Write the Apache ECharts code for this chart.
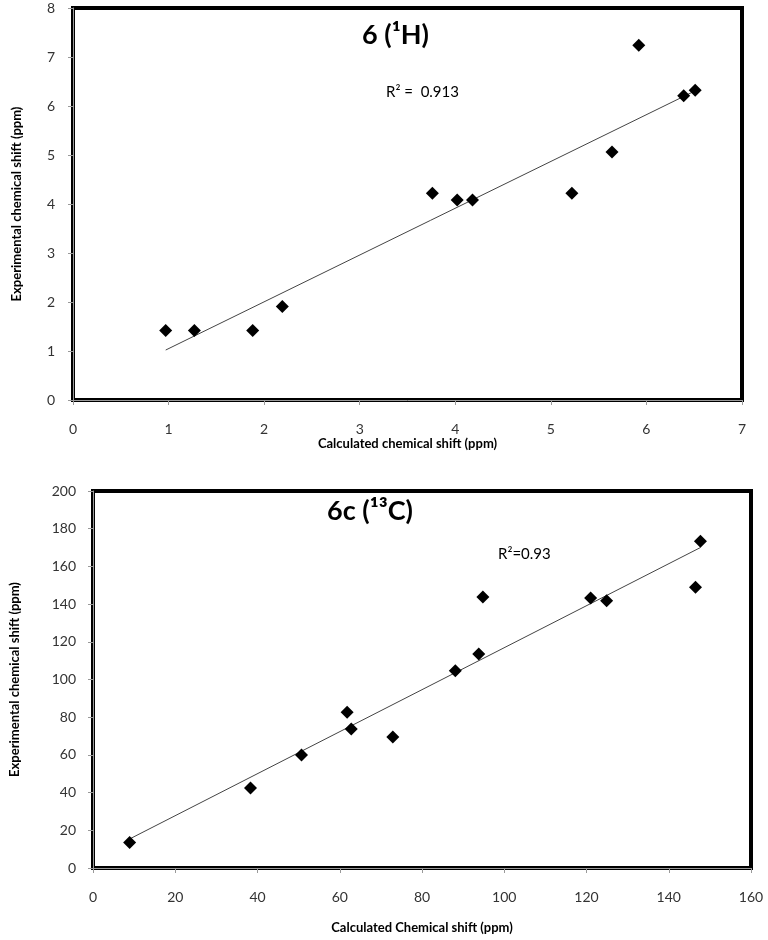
<!DOCTYPE html>
<html><head><meta charset="utf-8">
<script src="https://cdn.jsdelivr.net/npm/echarts@6/dist/echarts.min.js"></script>
<style>html,body{margin:0;padding:0;background:#fff}#c{width:768px;height:940px}</style>
</head><body><div id="c"></div>
<script>
// Top chart: 6 (1H)
const hCalc = [0.97, 1.27, 1.88, 2.19, 3.76, 4.02, 4.18, 5.22, 5.64, 5.92, 6.39, 6.51];
const hExp  = [1.42, 1.42, 1.42, 1.91, 4.22, 4.08, 4.08, 4.22, 5.06, 7.24, 6.21, 6.32];
const hTrend = [[0.97, 1.02], [6.51, 6.31]];
const hXTicks = [0, 1, 2, 3, 4, 5, 6, 7];
const hYTicks = [0, 1, 2, 3, 4, 5, 6, 7, 8];
// Bottom chart: 6c (13C)
const cCalc = [8.9, 38.3, 50.7, 61.8, 62.8, 72.9, 88.1, 93.8, 94.8, 121.0, 124.9, 146.5, 147.7];
const cExp  = [13.5, 42.5, 60.0, 82.6, 73.8, 69.5, 104.6, 113.5, 143.8, 143.2, 141.8, 149.0, 173.4];
const cTrend = [[8.9, 15.4], [147.7, 170.0]];
const cXTicks = [0, 20, 40, 60, 80, 100, 120, 140, 160];
const cYTicks = [0, 20, 40, 60, 80, 100, 120, 140, 160, 180, 200];

const FONT = 'Lato, "Open Sans", sans-serif';
const zip = (a, b) => a.map((v, i) => [v, b[i]]);

function xAxis(idx, ticks, name, gap) {
  return {
    type: 'value', gridIndex: idx, min: ticks[0], max: ticks[ticks.length - 1],
    interval: ticks[1] - ticks[0],
    name: name, nameLocation: 'middle', nameGap: gap,
    nameTextStyle: { fontFamily: FONT, fontWeight: 'bold', fontSize: 13, color: '#000' },
    axisLine: { show: true, onZero: false, lineStyle: { color: '#999', width: 1 } },
    axisTick: { show: true, inside: false, length: 5, lineStyle: { color: '#999' } },
    axisLabel: { margin: 22, fontFamily: FONT, fontSize: 14, color: '#333' },
    splitLine: { show: false }
  };
}
function yAxis(idx, ticks, name, gap, margin) {
  return {
    type: 'value', gridIndex: idx, min: ticks[0], max: ticks[ticks.length - 1],
    interval: ticks[1] - ticks[0],
    name: name, nameLocation: 'middle', nameGap: gap, nameRotate: 90,
    nameTextStyle: { fontFamily: FONT, fontWeight: 'bold', fontSize: 13, color: '#000' },
    axisLine: { show: true, onZero: false, lineStyle: { color: '#999', width: 1 } },
    axisTick: { show: true, inside: false, length: 5, lineStyle: { color: '#999' } },
    axisLabel: { margin: margin, fontFamily: FONT, fontSize: 14, color: '#333' },
    splitLine: { show: false }
  };
}
const scatterStyle = { color: '#000', opacity: 1 };
const chart = echarts.init(document.getElementById('c'), null, { renderer: 'canvas' });
chart.setOption({
  animation: false,
  backgroundColor: '#fff',
  title: [
    { text: '6 (¹H)', left: 357, top: 17, textStyle: { fontFamily: FONT, fontWeight: 'bold', fontSize: 27, color: '#000' } },
    { text: 'R² =  0.913', left: 381, top: 80, textStyle: { fontFamily: FONT, fontWeight: 'normal', fontSize: 15, color: '#000' } },
    { text: '6c (¹³C)', left: 322, top: 493, textStyle: { fontFamily: FONT, fontWeight: 'bold', fontSize: 27, color: '#000' } },
    { text: 'R²=0.93', left: 493, top: 542, textStyle: { fontFamily: FONT, fontWeight: 'normal', fontSize: 15, color: '#000' } }
  ],
  grid: [
    { left: 73, top: 8, width: 669, height: 392, show: true, borderColor: '#000', borderWidth: 4, backgroundColor: 'transparent' },
    { left: 86, top: 491, width: 665, height: 377, show: true, borderColor: '#000', borderWidth: 4, backgroundColor: 'transparent' }
  ],
  xAxis: [
    xAxis(0, hXTicks, 'Calculated chemical shift (ppm)', 31),
    xAxis(1, cXTicks, 'Calculated Chemical shift (ppm)', 53)
  ],
  yAxis: [
    yAxis(0, hYTicks, 'Experimental chemical shift (ppm)', 50, 18),
    yAxis(1, cYTicks, 'Experimental chemical shift (ppm)', 72, 17)
  ],
  series: [
    { type: 'line', xAxisIndex: 0, yAxisIndex: 0, data: hTrend, symbol: 'none', lineStyle: { color: '#444', width: 1 }, z: 2 },
    { type: 'scatter', xAxisIndex: 0, yAxisIndex: 0, data: zip(hCalc, hExp), symbol: 'diamond', symbolSize: 13, itemStyle: scatterStyle, z: 3 },
    { type: 'line', xAxisIndex: 1, yAxisIndex: 1, data: cTrend, symbol: 'none', lineStyle: { color: '#444', width: 1 }, z: 2 },
    { type: 'scatter', xAxisIndex: 1, yAxisIndex: 1, data: zip(cCalc, cExp), symbol: 'diamond', symbolSize: 13, itemStyle: scatterStyle, z: 3 }
  ]
});
</script></body></html>
